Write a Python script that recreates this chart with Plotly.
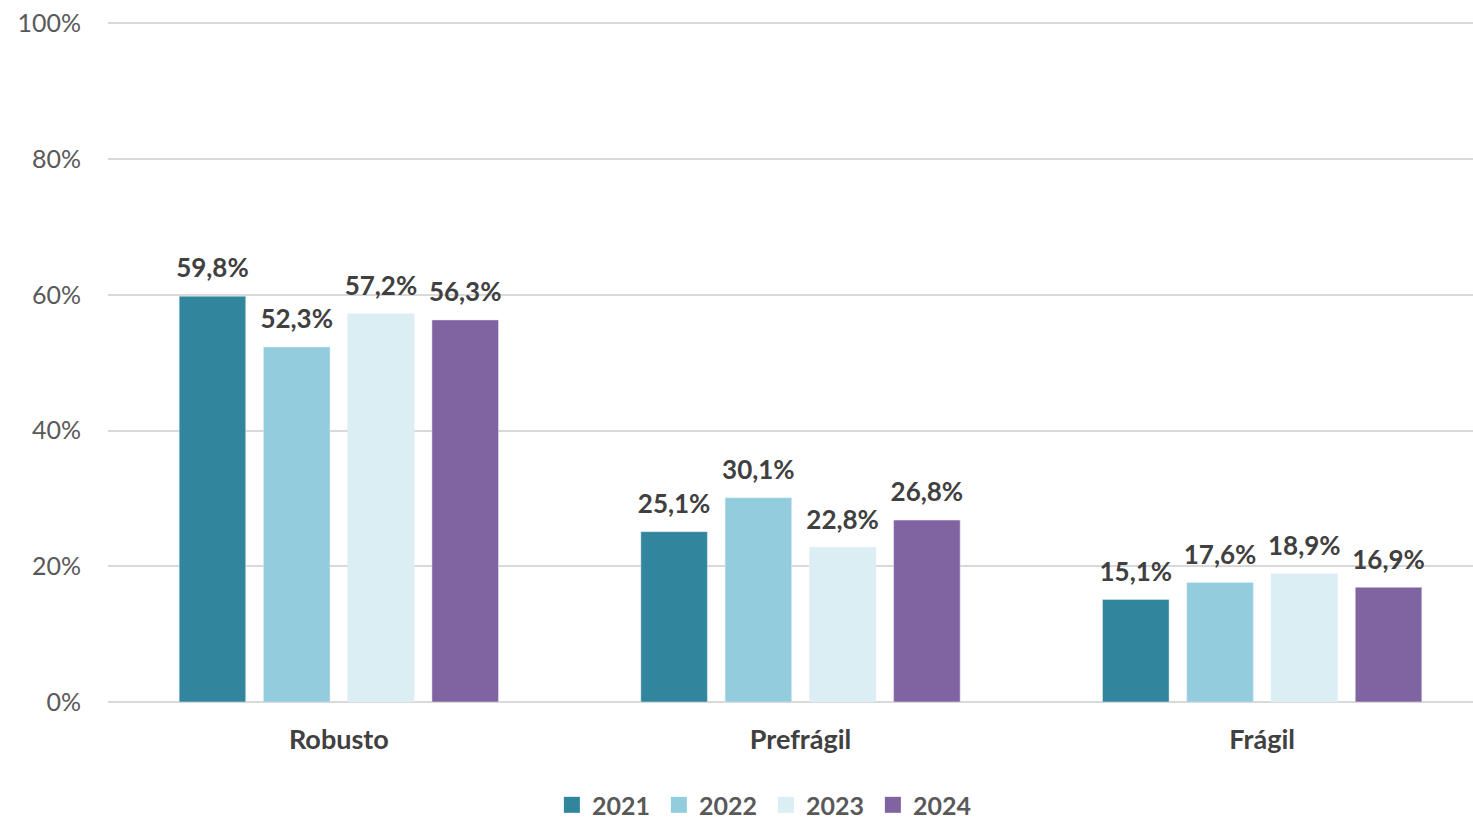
import plotly.graph_objects as go

categories = ["Robusto", "Prefrágil", "Frágil"]
years = ["2021", "2022", "2023", "2024"]
values_2021 = [59.8, 25.1, 15.1]
values_2022 = [52.3, 30.1, 17.6]
values_2023 = [57.2, 22.8, 18.9]
values_2024 = [56.3, 26.8, 16.9]
colors = ["#31859C", "#93CDDD", "#DAEEF3", "#8064A2"]

series = [values_2021, values_2022, values_2023, values_2024]

fig = go.Figure()
for year, vals, color in zip(years, series, colors):
    fig.add_trace(
        go.Bar(
            x=categories,
            y=[v / 100 for v in vals],
            name=year,
            offsetgroup=year,
            marker={"color": color},
            showlegend=False,
            hoverinfo="skip",
        )
    )
    # value labels, placed on an invisible marker so they sit higher above the bar
    fig.add_trace(
        go.Scatter(
            x=categories,
            y=[v / 100 for v in vals],
            offsetgroup=year,
            mode="markers+text",
            name=year,
            text=[f"{v:.1f}%".replace(".", ",") for v in vals],
            textposition="top center",
            textfont={"size": 26, "color": "#404040", "family": "Lato", "weight": "bold"},
            marker={"color": color, "symbol": "square", "size": 18, "opacity": 0},
            cliponaxis=False,
            showlegend=False,
        )
    )
    # legend entry with a bigger square swatch
    fig.add_trace(
        go.Scatter(
            x=[None],
            y=[None],
            mode="markers",
            name=year,
            marker={"color": color, "symbol": "square", "size": 18},
        )
    )

# the plot runs a little past the right edge of the window, as in the original
fig.update_layout(
    width=1493,
    height=819,
    margin={"l": 108, "r": 0, "t": 22, "b": 117},
    plot_bgcolor="white",
    paper_bgcolor="white",
    font={"family": "Lato", "color": "#595959"},
    barmode="group",
    bargap=0.27,
    bargroupgap=0.21,
    scattermode="group",
    scattergap=0.27,
    showlegend=True,
    legend={
        "orientation": "h",
        "x": 0.475,
        "xanchor": "center",
        "yref": "container",
        "y": 0.017,
        "yanchor": "middle",
        "font": {"size": 25, "color": "#595959", "weight": "bold"},
        "itemwidth": 30,
        "entrywidth": 62,
        "traceorder": "normal",
    },
)
fig.update_yaxes(
    range=[0, 1.002],
    tickvals=[0, 0.2, 0.4, 0.6, 0.8, 1.0],
    tickformat=".0%",
    tickfont={"size": 25, "color": "#595959"},
    gridcolor="#D9D9D9",
    gridwidth=2,
    zeroline=True,
    zerolinecolor="#D9D9D9",
    zerolinewidth=2,
    ticklabelstandoff=26,
    automargin=False,
)
fig.update_xaxes(
    tickfont={"size": 27, "color": "#404040", "weight": "bold"},
    showline=False,
    ticklabelstandoff=19,
    automargin=False,
)

# drop the default page margin so the figure fills the window exactly
fig.write_html(
    "out.html",
    config={"displayModeBar": False},
    post_script="document.body.style.margin='0';document.body.style.overflow='hidden';",
)
